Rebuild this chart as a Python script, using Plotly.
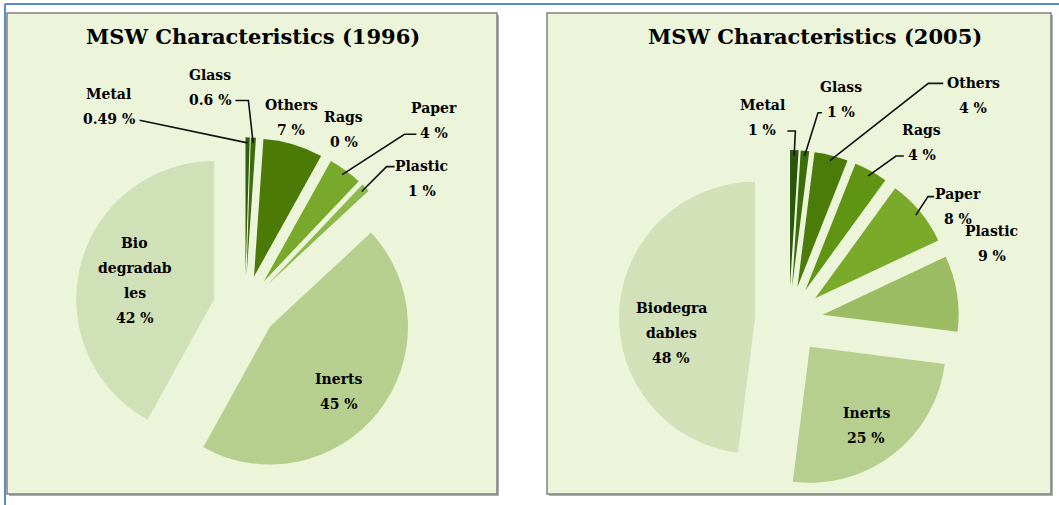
import math
import plotly.graph_objects as go

W, H = 1059, 505

# ---------------- data ----------------
categories = ["Metal", "Glass", "Others", "Rags", "Paper", "Plastic", "Inerts", "Biodegradables"]

values_1996 = [0.49, 0.6, 7, 0, 4, 1, 45, 42]
names_1996 = ["Metal", "Glass", "Others", "Rags", "Paper", "Plastic", "Inerts", "Bio<br>degradab<br>les"]

values_2005 = [1, 1, 4, 4, 8, 9, 25, 48]
names_2005 = ["Metal", "Glass", "Others", "Rags", "Paper", "Plastic", "Inerts", "Biodegra<br>dables"]

titles = ["MSW Characteristics (1996)", "MSW Characteristics (2005)"]

# ---------------- style ----------------
colors_1996 = ["#2f5f0c", "#3d6d0a", "#4b7b06", "#5f9412", "#78a92a", "#8db94c", "#b6cf8e", "#d1e1b7"]
colors_2005 = ["#2a560a", "#3d6c0b", "#4b7c09", "#5f9512", "#79aa2a", "#9cbc63", "#b7cf8e", "#d2e1b8"]

dom_1996 = dict(x=[0.0711, 0.3916], y=[0.0560, 0.7281])
dom_2005 = dict(x=[0.5845, 0.9056], y=[0.0297, 0.7030])
pull_1996 = 0.23
pull_2005 = 0.25

# label centre offsets (px) from the slice's outer mid-point
off_1996 = [(-139, -31), (-43, -50), (-2, -27), (16, -29), (89, -50), (56, -9), (-40, -20), (54, 16)]
off_2005 = [(-32, -33), (36, -51), (142, -60), (51, -29), (38, -5), (35, -50), (-27, -29), (52, 24)]
# leader lines: (end x, end y relative to label centre, horizontal elbow length) or None
lead_1996 = [(31, 14, 0), (25, 13, 13), None, None, (-18, 14, -12), (-27, -12, -8), None, None]
lead_2005 = [(25, 14, 8), (-19, 13, -4), (-30, -12, -15), (-18, 14, -8), (-24, -10, -6), None, None, None]

FONT = "DejaVu Serif"
BG = "#ecf5da"
LINE_GAP = 25  # px between text lines of a label


def px2paper(x, y):
    return x / W, 1 - y / H


def pie_anchors(values, domain, pull, frac=1.0):
    x0, x1 = domain["x"]
    y0, y1 = domain["y"]
    cx = W * (x0 + x1) / 2
    cy = H * (1 - (y0 + y1) / 2)
    r = min(W * (x1 - x0), H * (y1 - y0)) / 2 / (1 + pull)
    total = sum(values)
    cum = 0
    pts = []
    for v in values:
        mid = (cum + v / 2) / total * 2 * math.pi
        cum += v
        dx, dy = math.sin(mid), -math.cos(mid)
        pts.append((cx + (pull + frac) * r * dx, cy + (pull + frac) * r * dy))
    return pts


fig = go.Figure()

annotations = []
shapes = []

# outer blue frame lines
for (x0, y0, x1, y1) in [(5, 4, W, 4), (5, 4, 5, H)]:
    a, b = px2paper(x0, y0)
    c, d = px2paper(x1, y1)
    shapes.append(dict(type="line", xref="paper", yref="paper", x0=a, y0=b, x1=c, y1=d,
                       line=dict(color="#5b8bd0", width=2), layer="below"))
# panel boxes with shadow
for (x0, y0, x1, y1) in [(7, 13, 497, 494), (547, 13, 1051, 494)]:
    a, b = px2paper(x0 + 2, y0 + 2)
    c, d = px2paper(x1 + 2, y1 + 2)
    shapes.append(dict(type="rect", xref="paper", yref="paper", x0=a, y0=b, x1=c, y1=d,
                       fillcolor="#b0b0b0", line=dict(width=0), layer="below"))
    a, b = px2paper(x0, y0)
    c, d = px2paper(x1, y1)
    shapes.append(dict(type="rect", xref="paper", yref="paper", x0=a, y0=b, x1=c, y1=d,
                       fillcolor=BG, line=dict(color="#808080", width=1.5), layer="below"))

for vals, names, cols, dom, pull, offs, leads in [
    (values_1996, names_1996, colors_1996, dom_1996, pull_1996, off_1996, lead_1996),
    (values_2005, names_2005, colors_2005, dom_2005, pull_2005, off_2005, lead_2005),
]:
    fig.add_trace(go.Pie(
        labels=categories, values=vals, sort=False, direction="clockwise", rotation=0,
        pull=[pull] * len(vals), marker=dict(colors=cols, line=dict(width=0)),
        textinfo="none", hoverinfo="label+value", domain=dom, showlegend=False,
    ))
    outer = pie_anchors(vals, dom, pull, 1.0)
    inner = pie_anchors(vals, dom, pull, 0.96)
    for (ox, oy), (ix, iy), name, v, (dx, dy), ld in zip(outer, inner, names, vals, offs, leads):
        lx, ly = ox + dx, oy + dy
        lines = name.split("<br>") + [f"{v:g} %"]
        n = len(lines)
        for k, line in enumerate(lines):
            x, y = px2paper(lx, ly + (k - (n - 1) / 2) * LINE_GAP)
            annotations.append(dict(
                x=x, y=y, xref="paper", yref="paper", text=f"<b>{line}</b>",
                showarrow=False, xanchor="center", yanchor="middle", align="center",
                font=dict(family=FONT, size=14, color="#000000"),
            ))
        if ld is not None:
            ex, ey, h = ld
            p_end = px2paper(lx + ex, ly + ey)
            p_elb = px2paper(lx + ex + h, ly + ey)
            p_anc = px2paper(ix, iy)
            path = "M {:.5f},{:.5f} L {:.5f},{:.5f} L {:.5f},{:.5f}".format(
                p_end[0], p_end[1], p_elb[0], p_elb[1], p_anc[0], p_anc[1])
            shapes.append(dict(type="path", xref="paper", yref="paper", path=path,
                               line=dict(color="#111111", width=1.6), layer="above"))

# titles
for t, (tx, ty) in zip(titles, [(253, 37), (815, 37)]):
    x, y = px2paper(tx, ty)
    annotations.append(dict(x=x, y=y, xref="paper", yref="paper", text=f"<b>{t}</b>",
                            showarrow=False, xanchor="center", yanchor="middle",
                            font=dict(family=FONT, size=21, color="#000000")))

fig.update_layout(
    width=W, height=H, margin=dict(l=0, r=0, t=0, b=0),
    paper_bgcolor="#ffffff", plot_bgcolor="#ffffff",
    annotations=annotations, shapes=shapes,
)

fig.write_html("out.html", config={"displayModeBar": False},
               post_script="document.body.style.margin='0';")
